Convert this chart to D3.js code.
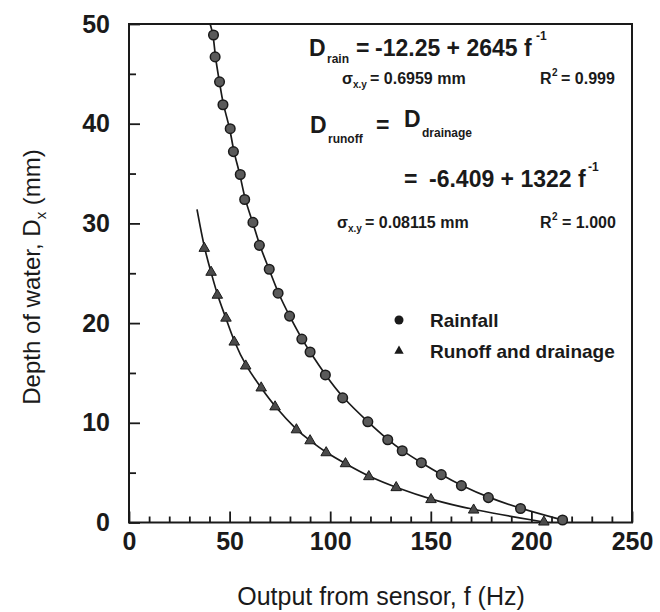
<!DOCTYPE html>
<html>
<head>
<meta charset="utf-8">
<script src="https://cdn.jsdelivr.net/npm/d3@7"></script>
<style>
    body { margin: 0; background: #fff; }
    text { font-family: "Liberation Sans", Arial, Helvetica, sans-serif; fill: #1a1a1a; }
</style>
</head>
<body>
<div id="chart"></div>
<script>
"use strict";
// values
const rainF = [42.0, 42.8, 45.0, 46.7, 50.3, 51.9, 55.3, 57.5, 61.6, 64.8, 69.7, 74.1, 79.8, 85.9, 90.0, 97.6, 106.2, 118.7, 128.6, 135.8, 145.3, 155.2, 165.2, 178.6, 194.6, 215.5]
const rainD = [48.9, 46.7, 44.2, 41.9, 39.5, 37.2, 34.9, 32.4, 30.1, 27.8, 25.4, 23.0, 20.7, 18.4, 17.1, 14.8, 12.5, 10.1, 8.3, 7.2, 6.0, 4.8, 3.7, 2.5, 1.4, 0.25]
const runoffF = [37.4, 40.8, 43.9, 48.2, 52.3, 58.0, 65.7, 72.6, 83.2, 90.0, 98.0, 107.6, 119.2, 132.8, 150.1, 171.3, 206.2]
const runoffD = [27.5, 25.1, 22.8, 20.5, 18.1, 15.7, 13.5, 11.6, 9.3, 8.2, 7.0, 5.9, 4.6, 3.5, 2.3, 1.25, 0.05]
// where each fitted curve begins (top-left end)
const rainCurveStart = [40.3, 50]
const runoffCurveStart = [33.8, 31.4]

const xMajor = [0, 50, 100, 150, 200, 250]
const xMinor = d3.range(10, 250, 10).filter(v => v % 50 !== 0)
const yMajor = [0, 10, 20, 30, 40, 50]
const yMinor = [5, 15, 25, 35, 45]

const width = 660, height = 612
const plot = { left: 129, right: 632, top: 24, bottom: 522.5 }

const svg = d3.select("#chart").append("svg")
    .attr("width", width)
    .attr("height", height)

const x = d3.scaleLinear().domain([0, 250]).range([plot.left, plot.right])
const y = d3.scaleLinear().domain([0, 50]).range([plot.bottom, plot.top])

// frame
svg.append("rect")
    .attr("x", plot.left).attr("y", plot.top)
    .attr("width", plot.right - plot.left)
    .attr("height", plot.bottom - plot.top)
    .attr("fill", "none")
    .attr("stroke", "#1a1a1a")
    .attr("stroke-width", 2)

// axes, ticks point into the plot
svg.append("g")
    .attr("transform", `translate(0,${plot.bottom})`)
    .call(d3.axisBottom(x).tickValues(xMajor).tickSize(-11).tickPadding(10).tickFormat(d3.format("d")))
svg.append("g")
    .attr("transform", `translate(0,${plot.bottom})`)
    .call(d3.axisBottom(x).tickValues(xMinor).tickSize(-6).tickFormat(""))
svg.append("g")
    .attr("transform", `translate(${plot.left},0)`)
    .call(d3.axisLeft(y).tickValues(yMajor).tickSize(-11).tickPadding(19).tickFormat(d3.format("d")))
svg.append("g")
    .attr("transform", `translate(${plot.left},0)`)
    .call(d3.axisLeft(y).tickValues(yMinor).tickSize(-7).tickFormat(""))

svg.selectAll(".domain").remove()
svg.selectAll(".tick line").attr("stroke", "#1a1a1a").attr("stroke-width", 1.8)
svg.selectAll(".tick text")
    .style("font-size", "25px")
    .style("font-weight", "bold")
    .attr("fill", "#1a1a1a")

// fitted curves
const line = d3.line()
    .x(d => x(d[0]))
    .y(d => y(d[1]))
    .curve(d3.curveBasis)

const rainPts = rainF.map((f, i) => [f, rainD[i]])
const runoffPts = runoffF.map((f, i) => [f, runoffD[i]])

svg.append("path")
    .datum([rainCurveStart].concat(rainPts))
    .attr("d", line)
    .attr("fill", "none")
    .attr("stroke", "#1a1a1a")
    .attr("stroke-width", 1.7)

svg.append("path")
    .datum([runoffCurveStart].concat(runoffPts))
    .attr("d", line)
    .attr("fill", "none")
    .attr("stroke", "#1a1a1a")
    .attr("stroke-width", 1.7)

// markers
svg.selectAll(".rain")
    .data(rainPts)
    .enter()
    .append("circle")
    .attr("class", "rain")
    .attr("cx", d => x(d[0]))
    .attr("cy", d => y(d[1]))
    .attr("r", 4.8)
    .attr("fill", "#5a5a5a")
    .attr("stroke", "#1a1a1a")
    .attr("stroke-width", 1.5)

const tri = d3.symbol().type(d3.symbolTriangle).size(48)
svg.selectAll(".runoff")
    .data(runoffPts)
    .enter()
    .append("path")
    .attr("class", "runoff")
    .attr("d", tri)
    .attr("transform", d => `translate(${x(d[0])},${y(d[1])})`)
    .attr("fill", "#4a4a4a")
    .attr("stroke", "#1a1a1a")
    .attr("stroke-width", 1)

// legend
svg.append("circle")
    .attr("cx", 399).attr("cy", 320).attr("r", 4.5)
    .attr("fill", "#1a1a1a")
svg.append("path")
    .attr("d", d3.symbol().type(d3.symbolTriangle).size(38))
    .attr("transform", "translate(399,351)")
    .attr("fill", "#1a1a1a")
svg.append("text")
    .attr("x", 430).attr("y", 327)
    .style("font-size", "19px").style("font-weight", "bold")
    .text("Rainfall")
svg.append("text")
    .attr("x", 430).attr("y", 358)
    .style("font-size", "19px").style("font-weight", "bold")
    .text("Runoff and drainage")

// equations
function eq(parts, size) {
    const t = svg.append("text")
        .style("font-size", size + "px")
        .style("font-weight", "bold")
    parts.forEach(p => {
        const s = t.append("tspan").text(p.t)
        if (p.x !== undefined) s.attr("x", p.x)
        if (p.y !== undefined) s.attr("y", p.y)
        if (p.fs) s.style("font-size", p.fs + "px")
    })
}

eq([
    { t: "D", x: 309, y: 56 },
    { t: "rain", x: 327, y: 63, fs: 12 },
    { t: "=", x: 356, y: 56 },
    { t: "-12.25 + 2645 f", x: 375, y: 56 },
    { t: "-1", x: 536, y: 40, fs: 12 }
], 23)

eq([
    { t: "σ", x: 342, y: 84 },
    { t: "x.y", x: 353, y: 88, fs: 10 },
    { t: "= 0.6959 mm", x: 370, y: 84 },
    { t: "R", x: 540, y: 84 },
    { t: "2", x: 552, y: 76, fs: 10 },
    { t: "= 0.999", x: 561, y: 84 }
], 16)

eq([
    { t: "D", x: 310, y: 133 },
    { t: "runoff", x: 328, y: 143, fs: 12 },
    { t: "=", x: 376, y: 133 },
    { t: "D", x: 404, y: 127 },
    { t: "drainage", x: 422, y: 137, fs: 12 }
], 23)

eq([
    { t: "=", x: 404, y: 187 },
    { t: "-6.409 + 1322 f", x: 429, y: 187 },
    { t: "-1", x: 588, y: 171, fs: 12 }
], 23)

eq([
    { t: "σ", x: 337, y: 228 },
    { t: "x.y", x: 348, y: 232, fs: 10 },
    { t: "= 0.08115 mm", x: 365, y: 228 },
    { t: "R", x: 540, y: 228 },
    { t: "2", x: 552, y: 220, fs: 10 },
    { t: "= 1.000", x: 562, y: 228 }
], 16)

// axis titles
svg.append("text")
    .attr("x", 381).attr("y", 605)
    .attr("text-anchor", "middle")
    .style("font-size", "25px")
    .text("Output from sensor, f (Hz)")

const yt = svg.append("text")
    .attr("transform", "translate(40,277) rotate(-90)")
    .attr("text-anchor", "middle")
    .style("font-size", "24px")
yt.append("tspan").text("Depth of water, D")
yt.append("tspan").attr("dy", 6).style("font-size", "15px").text("x")
yt.append("tspan").attr("dy", -6).text(" (mm)")
</script>
</body>
</html>
